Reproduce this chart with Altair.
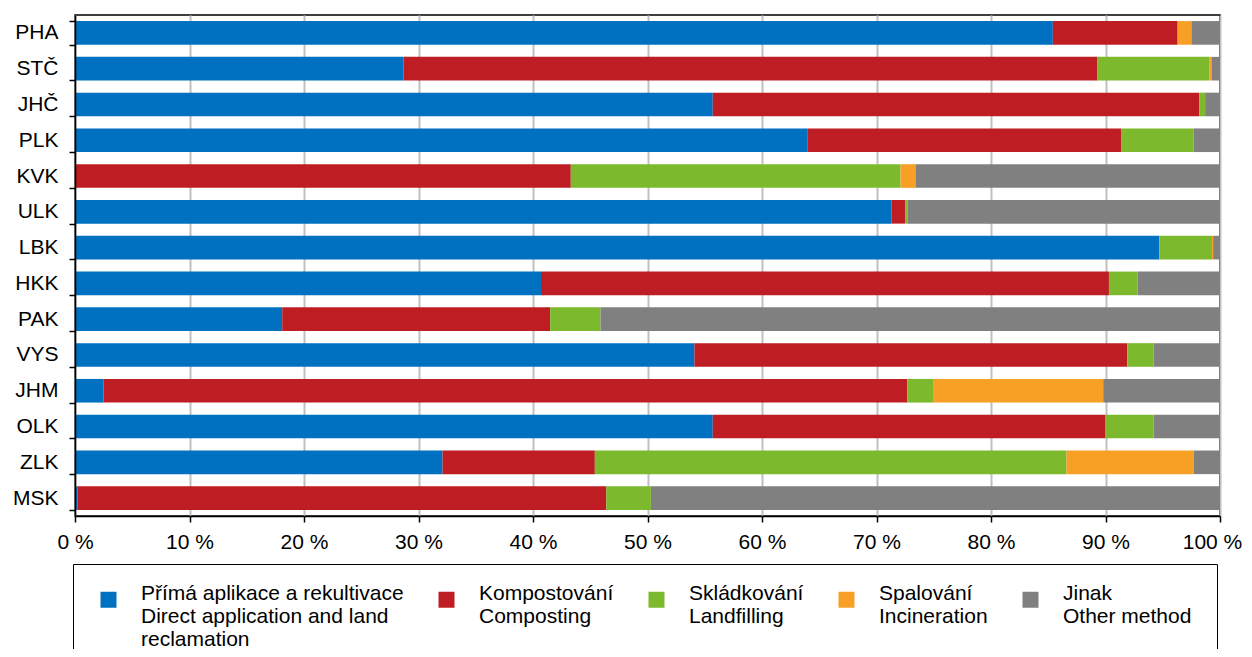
import altair as alt
import pandas as pd

regions = ["PHA", "STČ", "JHČ", "PLK", "KVK", "ULK", "LBK",
           "HKK", "PAK", "VYS", "JHM", "OLK", "ZLK", "MSK"]

methods = [
    "Přímá aplikace a rekultivace|Direct application and land|reclamation",
    "Kompostování|Composting|",
    "Skládkování|Landfilling|",
    "Spalování|Incineration|",
    "Jinak|Other method|",
]
colors = ["#0070C0", "#BE1E23", "#7DB92D", "#F8A026", "#808080"]

direct = [85.4, 28.7, 55.7, 64.0, 0.0, 71.3, 94.7, 40.7, 18.1, 54.1, 2.5, 55.7, 32.1, 0.2]
compost = [10.9, 60.6, 42.5, 27.4, 43.3, 1.2, 0.0, 49.6, 23.4, 37.8, 70.2, 34.3, 13.3, 46.2]
landfill = [0.0, 9.8, 0.5, 6.3, 28.8, 0.2, 4.6, 2.5, 4.4, 2.3, 2.3, 4.2, 41.2, 3.9]
incineration = [1.2, 0.2, 0.0, 0.0, 1.3, 0.0, 0.1, 0.0, 0.0, 0.0, 14.8, 0.0, 11.1, 0.0]
other = [2.5, 0.7, 1.3, 2.3, 26.6, 27.3, 0.6, 7.2, 54.1, 5.8, 10.2, 5.8, 2.3, 49.7]

x_ticks = [0, 10, 20, 30, 40, 50, 60, 70, 80, 90, 100]

series = [direct, compost, landfill, incineration, other]
rows = []
for idx, (m, vals) in enumerate(zip(methods, series)):
    for r, v in zip(regions, vals):
        rows.append({"region": r, "method": m, "order": idx, "value": v})
df = pd.DataFrame(rows)

FONT = "Liberation Sans"

chart = alt.Chart(df).mark_bar().encode(
    y=alt.Y(
        "region:N",
        sort=regions,
        scale=alt.Scale(paddingInner=0.34, paddingOuter=0.17),
        axis=alt.Axis(
            title=None, tickBand="extent", grid=False, zindex=1,
            domainColor="black", domainWidth=1.5,
            tickColor="black", tickWidth=1.5, tickSize=6,
            labelFont=FONT, labelFontSize=21, labelColor="black", labelPadding=11,
        ),
    ),
    x=alt.X(
        "value:Q",
        stack="zero",
        scale=alt.Scale(domain=[0, 100], nice=False),
        axis=alt.Axis(
            title=None, values=x_ticks, labelExpr="datum.value + ' %'",
            grid=True, gridColor="#C0C0C0", gridWidth=2,
            domainColor="black", domainWidth=1.5,
            tickColor="black", tickWidth=1.5, tickSize=6,
            labelFont=FONT, labelFontSize=21, labelColor="black", labelPadding=9,
            labelFlush=False,
            labelOffset={"condition": {"test": "datum.value == 100", "value": -8}, "value": 0},
        ),
    ),
    color=alt.Color(
        "method:N",
        scale=alt.Scale(domain=methods, range=colors),
        legend=alt.Legend(
            title=None, orient="none", legendX=-2, legendY=549,
            direction="horizontal", columns=5,
            symbolType="square", symbolSize=256, symbolStrokeWidth=0,
            symbolOpacity=1,
            labelExpr="split(datum.label, '|')",
            labelFont=FONT, labelFontSize=21, labelColor="black",
            labelBaseline="alphabetic", labelOffset=22, labelLimit=280,
            columnPadding=32, padding=25, strokeColor="black",
        ),
    ),
    order=alt.Order("order:Q"),
).properties(
    width=1145, height=501,
    autosize=alt.AutoSizeParams(type="none"),
    padding={"left": 67, "top": 7, "right": 24, "bottom": 133},
).configure_view(
    stroke="black", strokeWidth=1.5
)

chart.save("out.html", embed_options={"renderer": "svg", "actions": False})
